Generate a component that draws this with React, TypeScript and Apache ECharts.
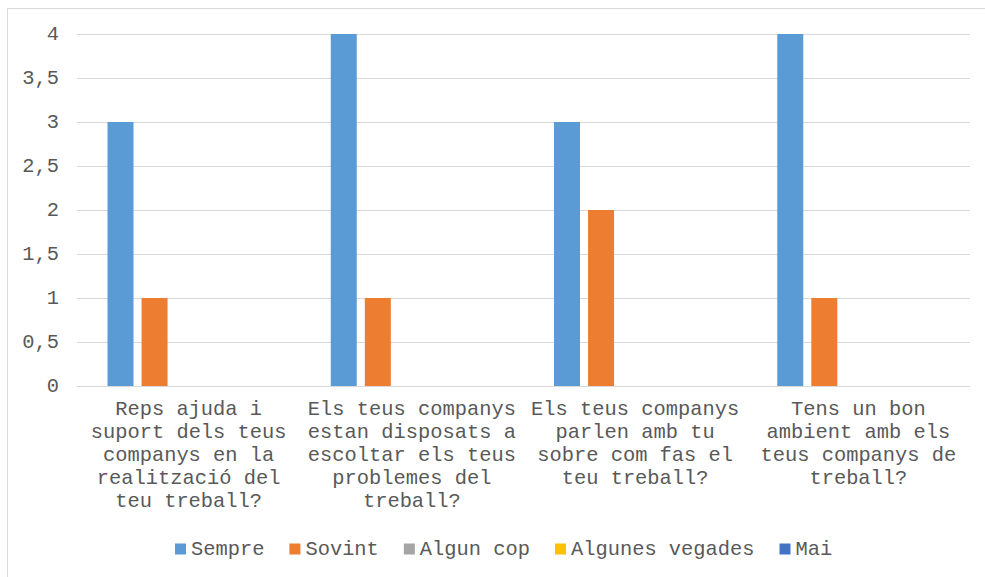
import React, { useEffect, useRef } from "react";
import * as echarts from "echarts";

const categories = [
  "Reps ajuda i\nsuport dels teus\ncompanys en la\nrealització del\nteu treball?",
  "Els teus companys\nestan disposats a\nescoltar els teus\nproblemes del\ntreball?",
  "Els teus companys\nparlen amb tu\nsobre com fas el\nteu treball?",
  "Tens un bon\nambient amb els\nteus companys de\ntreball?",
];
const seriesNames = ["Sempre", "Sovint", "Algun cop", "Algunes vegades", "Mai"];
const sempre = [3, 4, 3, 4];
const sovint = [1, 1, 2, 1];
const algunCop = [0, 0, 0, 0];
const algunesVegades = [0, 0, 0, 0];
const mai = [0, 0, 0, 0];
const colors = ["#5B9BD5", "#ED7D31", "#A5A5A5", "#FFC000", "#4472C4"];

const FONT = '"Liberation Mono", "Courier New", monospace';

export default function App() {
  const ref = useRef<HTMLDivElement>(null);
  useEffect(() => {
    if (!ref.current) return;
    const chart = echarts.init(ref.current, null, { renderer: "svg" });
    const values = [sempre, sovint, algunCop, algunesVegades, mai];
    chart.setOption({
      animation: false,
      color: colors,
      textStyle: { fontFamily: FONT, color: "#595959" },
      grid: { left: 69, right: 15, top: 25, bottom: 191, containLabel: false },
      legend: {
        data: seriesNames,
        left: 162,
        top: 525,
        itemWidth: 11,
        itemHeight: 11,
        itemGap: 25,
        icon: "rect",
        textStyle: { fontFamily: FONT, fontSize: 20.4, color: "#595959" },
      },
      xAxis: {
        type: "category",
        data: categories,
        axisLine: { show: true, lineStyle: { color: "#D9D9D9", width: 1 } },
        axisTick: { show: false },
        axisLabel: {
          interval: 0,
          margin: 12,
          fontFamily: FONT,
          fontSize: 20.4,
          lineHeight: 23,
          color: "#595959",
          align: "center",
        },
      },
      yAxis: {
        type: "value",
        min: 0,
        max: 4,
        interval: 0.5,
        axisLine: { show: false },
        axisTick: { show: false },
        splitLine: { lineStyle: { color: "#D9D9D9", width: 1 } },
        axisLabel: {
          margin: 18,
          fontFamily: FONT,
          fontSize: 20.4,
          color: "#595959",
          formatter: (v: number) => String(v).replace(".", ","),
        },
      },
      series: seriesNames.map((name, i) => ({
        name,
        type: "bar",
        data: values[i],
        barWidth: 26,
        barGap: "31%",
        itemStyle: { color: colors[i] },
      })),
    });
    return () => chart.dispose();
  }, []);
  return (
    <div
      style={{
        position: "fixed",
        left: 7,
        top: 8,
        width: 977,
        height: 568,
        borderLeft: "1px solid #D9D9D9",
        borderTop: "1px solid #D9D9D9",
        background: "#fff",
      }}
    >
      <div ref={ref} style={{ width: 977, height: 568 }} />
    </div>
  );
}
